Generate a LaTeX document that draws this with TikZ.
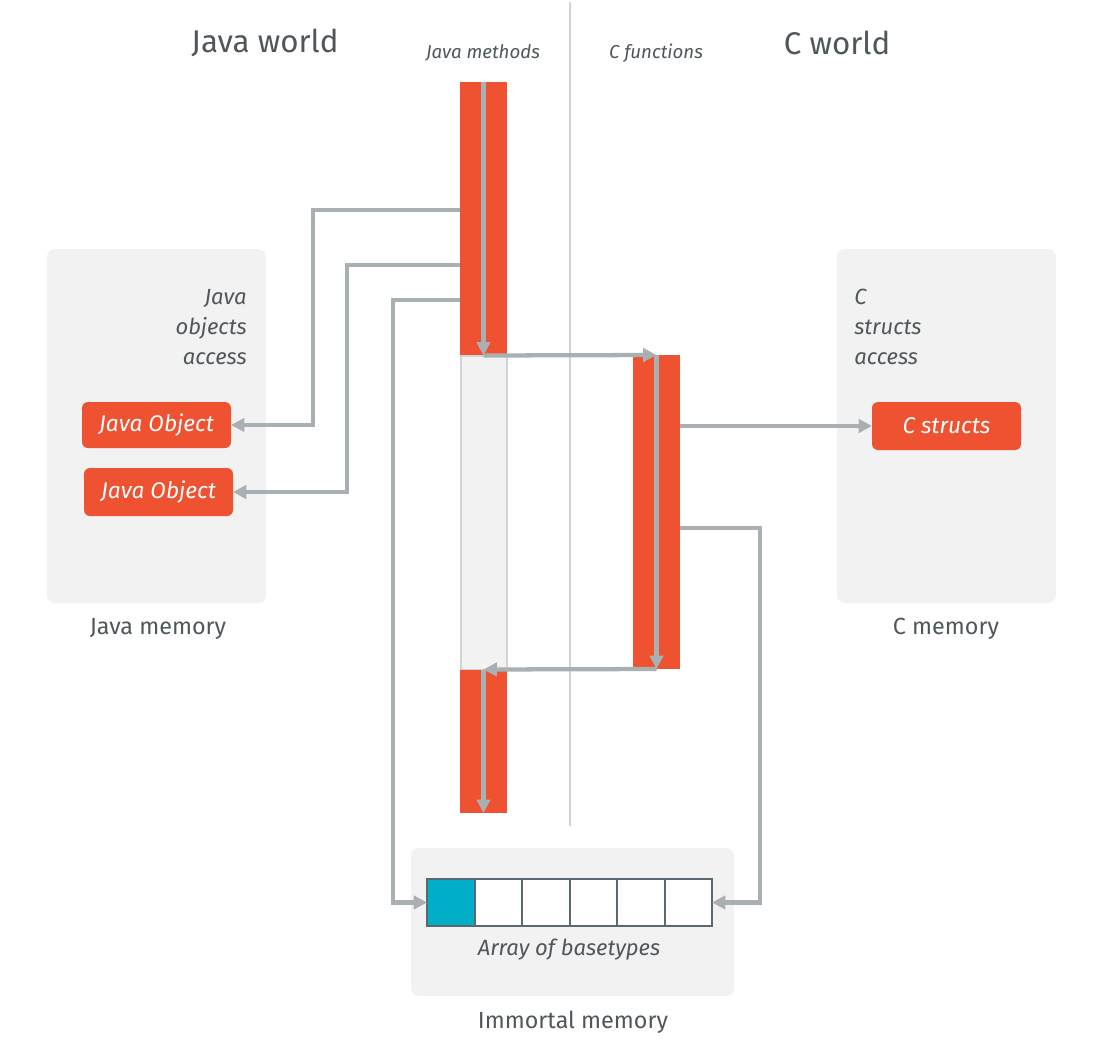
\documentclass[tikz,border=0pt]{standalone}
\usepackage{fontspec}
\setmainfont{Fira Sans}
\usetikzlibrary{arrows.meta}
\definecolor{orng}{HTML}{EE5230}
\definecolor{arrgray}{HTML}{A9B0B3}
\definecolor{panel}{HTML}{F2F2F2}
\definecolor{txt}{HTML}{4F575B}
\definecolor{divc}{HTML}{CED4D7}
\definecolor{cyanc}{HTML}{00AEC8}
\definecolor{cellc}{HTML}{5A6A73}
\tikzset{
  sz/.style 2 args={minimum width=#1*0.75pt, minimum height=#2*0.75pt, inner sep=0pt, outer sep=0pt},
  bar/.style={fill=orng, draw=none},
  lightbar/.style={fill=panel, draw=divc, line width=1.5pt},
  mem/.style={fill=panel, draw=none, rounded corners=6pt},
  obj/.style={fill=orng, draw=none, rounded corners=4.5pt, text=white, font=\fontsize{17}{20}\selectfont\itshape},
  cellbox/.style={fill=white, draw=cellc, line width=1.5pt, sz={47.5}{47}},
  arr/.style={draw=arrgray, line width=3.2pt, -{Triangle[length=10pt,width=10pt]}},
  divider/.style={draw=divc, line width=2.2pt},
  title/.style={text=txt, font=\fontsize{23.5}{28}\selectfont},
  sub/.style={text=txt, font=\fontsize{14}{16}\selectfont\itshape},
  memlabel/.style={text=txt, font=\fontsize{17.5}{20}\selectfont},
  note/.style={text=txt, font=\fontsize{16.5}{22.5}\selectfont\itshape, inner sep=0pt},
}
\begin{document}
\begin{tikzpicture}[x=0.75pt, y=-0.75pt]
\useasboundingbox (0,0) rectangle (1104,1050);
\fill[white] (0,0) rectangle (1104,1050);

% memory panels
\node[mem, sz={219}{354}] (jmem) at (156.5,426) {};
\node[mem, sz={219}{354}] (cmem) at (946.5,426) {};
\node[mem, sz={323}{148}] (imem) at (572.5,922) {};

% divider
\draw[divider] (570,2) -- (570,826);

% bars
\node[bar, sz={47}{273}] (jtop) at (483.5,218.5) {};
\node[lightbar, sz={46}{314}] (jmid) at (483.5,512.5) {};
\node[bar, sz={47}{143}] (jbot) at (483.5,741.5) {};
\node[bar, sz={47}{314}] (cbar) at (656.5,512) {};

% objects
\node[obj, sz={149}{46}] (jo1) at (156.5,425) {Java Object};
\node[obj, sz={149}{48}] (jo2) at (158.5,492) {Java Object};
\node[obj, sz={149}{48}] (cs) at (946.5,426) {C structs};

% array
\foreach \i in {1,...,6} {
  \node[cellbox] (cell\i) at ({427+(\i-0.5)*47.5},902.5) {};
}
\node[cellbox, fill=cyanc] at (cell1) {};
\node[note] (arrlbl) at (569,950) {Array of basetypes};

% texts
\node[title] (jw) at (265,43) {Java world};
\node[title] (cw) at (837,43) {C world};
\node[sub] (jm) at (483,53) {Java methods};
\node[sub] (cf) at (656,53) {C functions};
\node[note, align=right, anchor=north east] (joa) at (247,289) {Java\\objects\\access};
\node[note, align=left, anchor=north west] (csa) at (854,289) {C\\structs\\access};
\node[memlabel] (jml) at (158,629) {Java memory};
\node[memlabel] (cml) at (946,629) {C memory};
\node[memlabel] (iml) at (573,1022) {Immortal memory};

% call flow
\draw[arr] (jtop.north) -- (jmid.north);
\draw[arr] (jmid.north) -- (cbar.north);
\draw[arr] (cbar.north) -- (cbar.south);
\draw[arr] (cbar.south) -- (jmid.south);
\draw[arr] (jbot.north) -- (jbot.south);

% java object access
\coordinate (a1) at (460,210);
\coordinate (a2) at (460,265);
\coordinate (a3) at (460,300);
\draw[arr] (a1) -- (313,210) |- (jo1.east);
\draw[arr] (a2) -- (347,265) |- (jo2.east);
\draw[arr] (a3) -- (393,300) |- (cell1.west);

% c access
\draw[arr] (cs.west -| cbar.east) -- (cs.west);
\coordinate (b2) at (680,528);
\draw[arr] (b2) -- (760,528) |- (cell6.east);
\end{tikzpicture}
\end{document}
